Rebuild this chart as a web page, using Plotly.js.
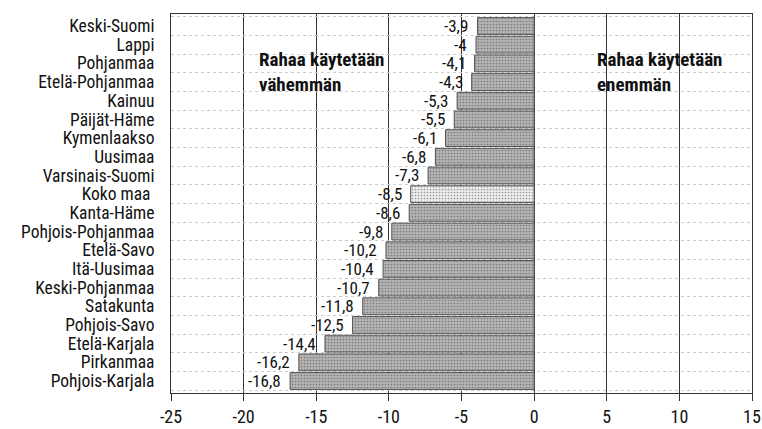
<!DOCTYPE html>
<html>
<head>
<meta charset="utf-8">
<script src="https://cdn.plot.ly/plotly-3.0.1.min.js"></script>
<style>
html,body{margin:0;padding:0;background:#fff;}
#chart{width:762px;height:429px;}
</style>
</head>
<body>
<div id="chart"></div>
<script>
const regions = ["Keski-Suomi","Lappi","Pohjanmaa","Etelä-Pohjanmaa","Kainuu","Päijät-Häme","Kymenlaakso","Uusimaa","Varsinais-Suomi","Koko maa ","Kanta-Häme","Pohjois-Pohjanmaa","Etelä-Savo","Itä-Uusimaa","Keski-Pohjanmaa","Satakunta","Pohjois-Savo","Etelä-Karjala","Pirkanmaa","Pohjois-Karjala"];
const changes = [-3.9,-4,-4.1,-4.3,-5.3,-5.5,-6.1,-6.8,-7.3,-8.5,-8.6,-9.8,-10.2,-10.4,-10.7,-11.8,-12.5,-14.4,-16.2,-16.8];
const xTicks = [-25,-20,-15,-10,-5,0,5,10,15];
const noteLeftLines = ["Rahaa käytetään", "vähemmän"];
const noteRightLines = ["Rahaa käytetään", "enemmän"];

const FONT = "'Roboto Condensed', Roboto, sans-serif";
const fmt = v => String(v).replace('.', ',');

const barColors = regions.map(r => r.trim() === "Koko maa" ? "#ececec" : "#b3b3b3");

const trace = {
  type: 'bar',
  orientation: 'h',
  x: changes,
  y: regions,
  marker: {
    color: barColors,
    line: {color: '#555', width: 1},
    pattern: {shape: '.', fgcolor: '#777', size: 3, solidity: 0.25, fillmode: 'overlay'}
  },
  hoverinfo: 'skip'
};

const annotations = regions.map((r, i) => ({
  x: changes[i], y: r, xref: 'x', yref: 'y',
  text: fmt(changes[i]), showarrow: false,
  xanchor: 'right', yanchor: 'middle', xshift: -7,
  font: {family: FONT, size: 17, color: '#111'}
}));
[[noteLeftLines, -19.1], [noteRightLines, 4.2]].forEach(([lines, x]) => {
  annotations.push({
    x: x, y: 0.847, xref: 'x', yref: 'paper',
    text: lines.map(t => '<b>' + t + '</b>').join('<br>'),
    showarrow: false, xanchor: 'left', yanchor: 'middle', align: 'left',
    font: {family: FONT, size: 19, color: '#111'}
  });
});

const layout = {
  width: 762, height: 429,
  margin: {l: 171, r: 10, t: 14, b: 36, pad: 0},
  paper_bgcolor: '#fff', plot_bgcolor: '#fff',
  showlegend: false,
  bargap: 0.1,
  font: {family: FONT, size: 17, color: '#111'},
  xaxis: {
    range: [-25, 15],
    tickvals: xTicks,
    ticktext: xTicks.map(String),
    ticks: 'outside', ticklen: 7, tickcolor: '#333', tickwidth: 1,
    showgrid: true, gridcolor: '#333', gridwidth: 1,
    zeroline: false,
    showline: true, linecolor: '#333', linewidth: 1, mirror: true,
    tickfont: {family: FONT, size: 18, color: '#111'},
    fixedrange: true
  },
  yaxis: {
    type: 'category',
    autorange: 'reversed',
    tickmode: 'array',
    tickvals: regions,
    ticktext: regions,
    tickson: 'boundaries',
    ticks: '',
    showgrid: true, gridcolor: '#cccccc', griddash: 'dot', gridwidth: 1,
    zeroline: false,
    showline: true, linecolor: '#333', linewidth: 1, mirror: true,
    ticklabelstandoff: 12,
    tickfont: {family: FONT, size: 17.5, color: '#111'},
    fixedrange: true
  },
  annotations: annotations
};

Plotly.newPlot('chart', [trace], layout, {staticPlot: true, displayModeBar: false});
</script>
</body>
</html>
